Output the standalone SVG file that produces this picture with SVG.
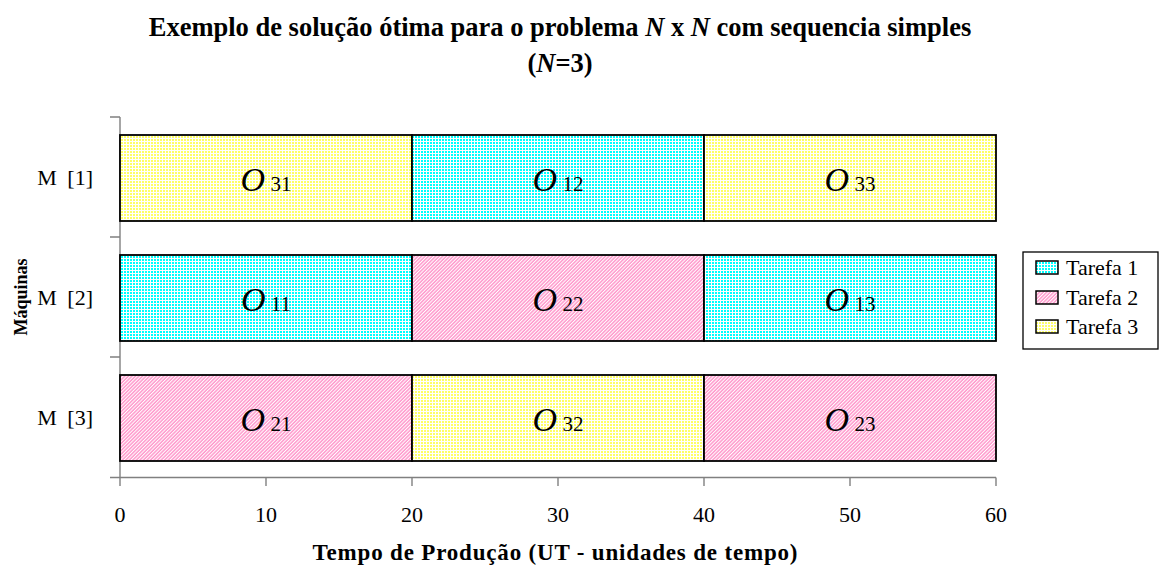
<svg xmlns="http://www.w3.org/2000/svg" width="1160" height="570" viewBox="0 0 1160 570">
<defs>
<pattern id="pc" width="3" height="3" patternUnits="userSpaceOnUse"><rect width="3" height="3" fill="#00FFFF"/><path d="M0 0.5H3M0.5 0V3" stroke="#FFFFFF" stroke-width="1"/></pattern>
<pattern id="py" width="3" height="3" patternUnits="userSpaceOnUse"><rect width="3" height="3" fill="#FFFF66"/><path d="M0 0.5H3M0.5 0V3" stroke="#FFFFFF" stroke-width="1"/></pattern>
<pattern id="pp" width="2.5" height="2.5" patternUnits="userSpaceOnUse" patternTransform="rotate(-45)"><rect width="2.5" height="2.5" fill="#FF99CC"/><path d="M0 0.5H2.5" stroke="#FFFFFF" stroke-width="1"/></pattern>
<style>
.t{font-family:"Liberation Serif","Times New Roman",serif;fill:#000}
.bar{stroke:#000;stroke-width:1.8}
.ax{stroke:#808080;stroke-width:1.4;fill:none}
.O{font-style:italic;font-size:34px}
.s{font-size:21px}
.lab{font-size:22px}
</style>
</defs>
<rect width="1160" height="570" fill="#fff"/>
<g id="title" class="t" font-weight="bold" font-size="26.5" text-anchor="middle">
<text x="560" y="36">Exemplo de solução ótima para o problema <tspan font-style="italic">N</tspan> x <tspan font-style="italic">N</tspan> com sequencia simples</text>
<text x="560" y="72">(<tspan font-style="italic">N</tspan>=3)</text>
</g>
<g id="axes">
<path class="ax" d="M120 117V477.5M110 117H120M110 237H120M110 357H120M110 477.5H996M120 477.5V486M266 477.5V486M412 477.5V486M558 477.5V486M704 477.5V486M850 477.5V486M996 477.5V486"/>
<g class="t lab" text-anchor="middle">
<text x="120" y="522">0</text><text x="266" y="522">10</text><text x="412" y="522">20</text><text x="558" y="522">30</text><text x="704" y="522">40</text><text x="850" y="522">50</text><text x="996" y="522">60</text>
</g>
<g class="t lab" text-anchor="end" word-spacing="5">
<text x="93" y="185">M [1]</text><text x="93" y="305">M [2]</text><text x="93" y="425">M [3]</text>
</g>
<text class="t" font-weight="bold" font-size="23" text-anchor="middle" x="555" y="560" textLength="485" lengthAdjust="spacing">Tempo de Produção (UT - unidades de tempo)</text>
<text class="t" font-weight="bold" font-size="18" text-anchor="middle" transform="translate(27 297) rotate(-90)">Máquinas</text>
</g>
<g id="row1">
<rect class="bar" x="120" y="135" width="292" height="86" fill="url(#py)"/>
<rect class="bar" x="412" y="135" width="292" height="86" fill="url(#pc)"/>
<rect class="bar" x="704" y="135" width="292" height="86" fill="url(#py)"/>
<text class="t" text-anchor="middle" x="266" y="191"><tspan class="O">O</tspan><tspan class="s"> 31</tspan></text>
<text class="t" text-anchor="middle" x="558" y="191"><tspan class="O">O</tspan><tspan class="s"> 12</tspan></text>
<text class="t" text-anchor="middle" x="850" y="191"><tspan class="O">O</tspan><tspan class="s"> 33</tspan></text>
</g>
<g id="row2">
<rect class="bar" x="120" y="255" width="292" height="86" fill="url(#pc)"/>
<rect class="bar" x="412" y="255" width="292" height="86" fill="url(#pp)"/>
<rect class="bar" x="704" y="255" width="292" height="86" fill="url(#pc)"/>
<text class="t" text-anchor="middle" x="266" y="311"><tspan class="O">O</tspan><tspan class="s"> 11</tspan></text>
<text class="t" text-anchor="middle" x="558" y="311"><tspan class="O">O</tspan><tspan class="s"> 22</tspan></text>
<text class="t" text-anchor="middle" x="850" y="311"><tspan class="O">O</tspan><tspan class="s"> 13</tspan></text>
</g>
<g id="row3">
<rect class="bar" x="120" y="375" width="292" height="86" fill="url(#pp)"/>
<rect class="bar" x="412" y="375" width="292" height="86" fill="url(#py)"/>
<rect class="bar" x="704" y="375" width="292" height="86" fill="url(#pp)"/>
<text class="t" text-anchor="middle" x="266" y="431"><tspan class="O">O</tspan><tspan class="s"> 21</tspan></text>
<text class="t" text-anchor="middle" x="558" y="431"><tspan class="O">O</tspan><tspan class="s"> 32</tspan></text>
<text class="t" text-anchor="middle" x="850" y="431"><tspan class="O">O</tspan><tspan class="s"> 23</tspan></text>
</g>
<g id="legend">
<rect x="1023" y="252" width="135" height="97" fill="#fff" stroke="#000" stroke-width="1.3"/>
<rect x="1036" y="261" width="22" height="13" fill="url(#pc)" stroke="#000" stroke-width="1.5"/>
<rect x="1036" y="291" width="22" height="13" fill="url(#pp)" stroke="#000" stroke-width="1.5"/>
<rect x="1036" y="320" width="22" height="13" fill="url(#py)" stroke="#000" stroke-width="1.5"/>
<g class="t lab">
<text x="1066" y="275">Tarefa 1</text><text x="1066" y="305">Tarefa 2</text><text x="1066" y="334">Tarefa 3</text>
</g>
</g>
</svg>
